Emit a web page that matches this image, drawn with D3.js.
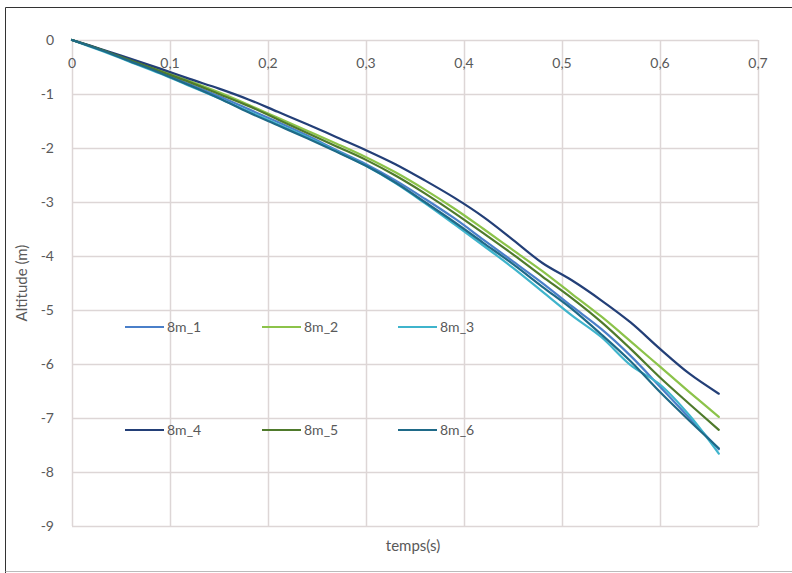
<!DOCTYPE html>
<html lang="fr">
<head>
<meta charset="UTF-8">
<title>Altitude</title>
<script src="https://d3js.org/d3.v7.min.js"></script>
<style>
  body { margin: 0; background: #fff; }
  text { font-family: Lato, "Open Sans", sans-serif; fill: #595959; }
</style>
</head>
<body>
<svg id="chart" width="792" height="573"></svg>
<script>
// time in seconds
const temps = [0, 0.03, 0.06, 0.09, 0.12, 0.15, 0.18, 0.21, 0.24, 0.27, 0.30, 0.33,
               0.36, 0.39, 0.42, 0.45, 0.48, 0.51, 0.54, 0.57, 0.60, 0.63, 0.66];

const s8m_1 = [0, -0.18, -0.39, -0.6, -0.82, -1.04, -1.28, -1.52, -1.77, -2.04, -2.3, -2.6,
               -2.94, -3.3, -3.7, -4.1, -4.5, -4.93, -5.35, -5.85, -6.42, -7.0, -7.58];
const s8m_2 = [0, -0.18, -0.37, -0.56, -0.76, -0.97, -1.2, -1.44, -1.68, -1.92, -2.17, -2.45,
               -2.77, -3.12, -3.5, -3.89, -4.28, -4.7, -5.12, -5.58, -6.05, -6.52, -6.98];
const s8m_3 = [0, -0.2, -0.41, -0.62, -0.85, -1.08, -1.32, -1.56, -1.8, -2.06, -2.33, -2.65,
               -3.02, -3.41, -3.81, -4.22, -4.66, -5.1, -5.5, -6.02, -6.38, -6.95, -7.66];
const s8m_4 = [0, -0.17, -0.35, -0.53, -0.72, -0.9, -1.1, -1.33, -1.56, -1.8, -2.04, -2.3,
               -2.6, -2.92, -3.28, -3.7, -4.13, -4.45, -4.82, -5.23, -5.72, -6.18, -6.55];
const s8m_5 = [0, -0.18, -0.38, -0.58, -0.78, -1.0, -1.22, -1.47, -1.72, -1.97, -2.22, -2.51,
               -2.84, -3.2, -3.58, -3.97, -4.38, -4.78, -5.22, -5.72, -6.25, -6.74, -7.22];
const s8m_6 = [0, -0.19, -0.4, -0.61, -0.84, -1.08, -1.34, -1.58, -1.82, -2.07, -2.33, -2.64,
               -3.0, -3.37, -3.76, -4.15, -4.57, -4.98, -5.45, -5.95, -6.52, -7.05, -7.56];

const seriesNames = ["8m_1", "8m_2", "8m_3", "8m_4", "8m_5", "8m_6"];
const seriesValues = [s8m_1, s8m_2, s8m_3, s8m_4, s8m_5, s8m_6];
const colors = ["#4a7fc9", "#8cc34a", "#3fb4cc", "#233f77", "#4f7a2c", "#1f6a88"];

const xTicks = [0, 0.1, 0.2, 0.3, 0.4, 0.5, 0.6, 0.7];
const yTicks = [0, -1, -2, -3, -4, -5, -6, -7, -8, -9];

const svg = d3.select("#chart");

// outer frame
svg.append("line").attr("x1", 5.5).attr("y1", 7.5).attr("x2", 792).attr("y2", 7.5).attr("stroke", "#333");
svg.append("line").attr("x1", 5.5).attr("y1", 7.5).attr("x2", 5.5).attr("y2", 573).attr("stroke", "#333");
svg.append("line").attr("x1", 5.5).attr("y1", 571.5).attr("x2", 792).attr("y2", 571.5).attr("stroke", "#bbb");

const plotL = 72, plotR = 758, plotT = 40, plotB = 526;

const x = d3.scaleLinear().domain([0, 0.7]).range([plotL, plotR]);
const y = d3.scaleLinear().domain([-9, 0]).range([plotB, plotT]);

const fmt = d => String(d).replace(".", ",");

// grid
const grid = svg.append("g");
grid.selectAll(".vg").data(xTicks).join("line")
  .attr("x1", d => Math.round(x(d)) + 0.5).attr("x2", d => Math.round(x(d)) + 0.5)
  .attr("y1", plotT).attr("y2", plotB)
  .attr("stroke", "#ddd6d6").attr("stroke-width", 1.5);
grid.selectAll(".hg").data(yTicks).join("line")
  .attr("x1", plotL).attr("x2", plotR)
  .attr("y1", d => Math.round(y(d)) + 0.5).attr("y2", d => Math.round(y(d)) + 0.5)
  .attr("stroke", "#ddd6d6").attr("stroke-width", 1.5);

// y tick labels
svg.append("g").selectAll("text").data(yTicks).join("text")
  .attr("x", 54).attr("y", d => y(d)).attr("dy", "0.35em")
  .attr("text-anchor", "end").style("font-size", "14px")
  .text(d => d);

// x tick labels (axis crosses at y=0)
svg.append("g").selectAll("text").data(xTicks).join("text")
  .attr("x", d => x(d)).attr("y", y(0) + 28)
  .attr("text-anchor", "middle").style("font-size", "14px")
  .text(d => fmt(d));

// axis titles
svg.append("text")
  .attr("transform", "translate(27," + ((plotT + plotB) / 2) + ") rotate(-90)")
  .attr("text-anchor", "middle").style("font-size", "15px")
  .text("Altitude (m)");
svg.append("text")
  .attr("x", (plotL + plotR) / 2 - 2).attr("y", 551)
  .attr("text-anchor", "middle").style("font-size", "15px")
  .text("temps(s)");

// lines
const line = d3.line()
  .x((d, i) => x(temps[i]))
  .y(d => y(d))
  .curve(d3.curveCatmullRom.alpha(0.5));

svg.append("g").selectAll("path").data(seriesValues).join("path")
  .attr("d", d => line(d))
  .attr("fill", "none")
  .attr("stroke", (d, i) => colors[i])
  .attr("stroke-width", 2.2)
  .attr("stroke-linejoin", "round")
  .attr("stroke-linecap", "round");

// legend (two rows of three)
const legX = [125, 262, 398];
const legY = [327, 430];
const leg = svg.append("g").selectAll("g").data(seriesNames).join("g")
  .attr("transform", (d, i) => "translate(" + legX[i % 3] + "," + legY[Math.floor(i / 3)] + ")");
leg.append("line")
  .attr("x1", 0).attr("x2", 39).attr("y1", 0).attr("y2", 0)
  .attr("stroke", (d, i) => colors[i]).attr("stroke-width", 2.2);
leg.append("text")
  .attr("x", 42).attr("y", 0).attr("dy", "0.35em")
  .style("font-size", "14px")
  .text(d => d);
</script>
</body>
</html>
